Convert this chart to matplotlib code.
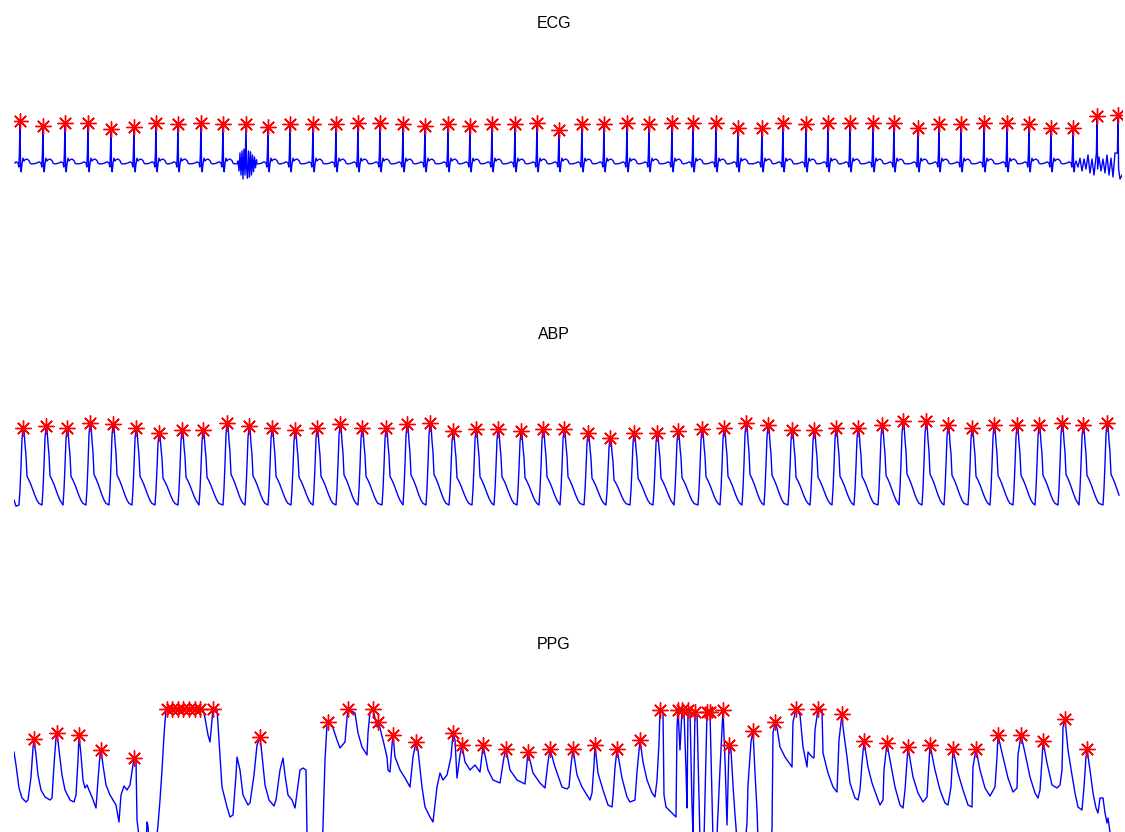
import numpy as np
import matplotlib.pyplot as plt

plt.rcParams['font.family'] = ['Liberation Sans', 'DejaVu Sans']

FS = 30.0  # index units per second on the shared time axis
T_END = 1108 / FS

# ---------------- ECG ----------------
ecg_r_idx = [6, 29, 51, 74, 97, 120, 142, 164, 187, 209,
             232, 254, 276, 299, 322, 344, 366, 389, 411, 434,
             456, 478, 501, 523, 545, 568, 590, 613, 635, 658,
             679, 702, 724, 748, 769, 792, 814, 836, 859, 880,
             904, 925, 947, 970, 993, 1015, 1037, 1059, 1083, 1104]
ecg_r_mv = [1.05, 0.93, 1.0, 1.0, 0.85, 0.9, 1.0, 0.98, 1.0, 0.98,
            0.98, 0.9, 0.98, 0.98, 0.98, 1.0, 1.0, 0.98, 0.93, 0.98,
            0.93, 0.98, 0.98, 1.0, 0.83, 0.98, 0.98, 1.0, 0.98, 1.0,
            1.0, 1.0, 0.88, 0.88, 1.0, 0.98, 1.0, 1.0, 1.0, 1.0,
            0.88, 0.98, 0.98, 1.0, 1.0, 0.98, 0.88, 0.88, 1.18, 1.2]
# one PQRST complex: offset from R (index units) and level in mV, R level set per beat
ecg_beat_off = [-9, -6, -4, -2, -1.2, -0.6, 0, 0.6, 1.2, 2, 3, 4, 5, 7, 9, 10, 11]
ecg_beat_mv = [-0.02, 0.0, 0.03, 0.0, -0.1, 0.25, 1.0, -0.15, -0.22, -0.02,
               0.12, 0.05, 0.08, 0.1, 0.06, 0.0, -0.02]
# electrode noise around beat 11 and at the end of the record
ecg_burst_idx = [224, 225, 226, 227, 228, 229, 230, 231, 233.5, 234.5, 235.5,
                 236.5, 237.5, 238.5, 239.5, 240.5, 241.5, 242.5]
ecg_burst_mv = [0.05, -0.2, 0.25, -0.3, 0.3, -0.4, 0.35, -0.3, -0.38, 0.3, -0.35,
                0.28, -0.3, 0.2, -0.22, 0.15, -0.12, 0.08]
ecg_tail_idx = [1062, 1064, 1066, 1068, 1070, 1072, 1074, 1076, 1078, 1080,
                1085, 1087, 1089, 1091, 1093, 1095, 1097, 1099, 1101, 1106, 1108]
ecg_tail_mv = [0.05, -0.1, 0.12, -0.2, 0.1, -0.15, 0.2, -0.25, 0.1, -0.3,
               0.15, -0.2, 0.1, -0.25, 0.2, -0.3, 0.12, -0.35, 0.25, -0.4, -0.3]

# ---------------- ABP ----------------
abp_sys_idx = [9, 32, 53, 76, 99, 122, 145, 168, 189, 213,
               235, 258, 281, 303, 326, 348, 372, 393, 416, 439,
               462, 484, 507, 529, 550, 574, 596, 620, 643, 664,
               688, 710, 732, 754, 778, 800, 822, 844, 868, 889,
               912, 934, 958, 980, 1003, 1025, 1048, 1069, 1093]
abp_sys = [122, 123, 122, 126, 125, 122, 118, 120, 120, 126,
           123, 122, 120, 122, 125, 122, 122, 125, 126, 119,
           121, 121, 119, 121, 121, 118, 114, 118, 118, 119,
           121, 122, 126, 124, 120, 120, 122, 122, 124, 127,
           127, 124, 122, 124, 124, 124, 126, 124, 126]
abp_dia = 60
abp_beat_off = [-4, -3, -2, -1, 0, 1, 2, 3, 4, 6, 8, 10, 12, 14, 16]
abp_beat_frac = [0, 0.2, 0.5, 0.85, 1.0, 0.97, 0.78, 0.64, 0.37, 0.32,
                 0.26, 0.19, 0.12, 0.06, 0.02]
abp_lead_idx = [0, 2]
abp_lead = [64, 59]
abp_last_idx = 1106

# ---------------- PPG ----------------
ppg_idx = [0, 2, 5, 8, 12, 14, 17, 19, 20, 22, 24, 27, 31, 36, 38, 40, 42, 43, 45, 48,
           51, 56, 60, 62, 64, 65, 67, 69, 71, 73, 75, 78, 82, 84, 86, 87, 89, 92, 96, 99,
           102, 105, 107, 110, 113, 116, 119, 120, 122, 123, 126, 132, 133, 134, 135, 141, 143, 144, 146, 148,
           150, 152, 189, 191, 194, 196, 198, 199, 203, 205, 208, 213, 216, 219, 222, 223, 226, 229, 234, 236,
           240, 243, 246, 248, 251, 255, 260, 262, 266, 269, 271, 274, 278, 281, 284, 286, 289, 292, 293, 301,
           308, 309, 311, 313, 314, 319, 323, 326, 331, 333, 334, 341, 344, 348, 353, 354, 356, 359, 363, 364,
           366, 369, 373, 374, 376, 378, 379, 381, 386, 391, 396, 399, 402, 404, 408, 411, 416, 419, 423, 426,
           429, 433, 437, 439, 441, 443, 446, 448, 451, 456, 461, 466, 468, 469, 474, 479, 486, 490, 492, 496,
           503, 511, 513, 514, 519, 526, 531, 534, 536, 541, 548, 553, 555, 557, 559, 563, 568, 573, 576, 578,
           580, 581, 584, 589, 594, 598, 599, 601, 603, 608, 613, 616, 621, 623, 626, 629, 633, 638, 641, 643,
           645, 646, 649, 650, 652, 662, 663, 664, 666, 668, 670, 672, 673, 674, 676, 678, 679, 681, 683, 686,
           690, 693, 696, 699, 703, 706, 709, 711, 713, 715, 717, 719, 721, 723, 731, 733, 734, 737, 739, 741,
           743, 744, 756, 758, 759, 761, 763, 766, 771, 778, 779, 782, 786, 789, 793, 794, 798, 800, 801, 804,
           808, 809, 814, 819, 823, 825, 828, 829, 833, 836, 841, 844, 846, 848, 850, 854, 858, 863, 866, 869,
           870, 873, 876, 881, 886, 889, 891, 894, 899, 904, 909, 913, 916, 921, 926, 931, 934, 937, 939, 944,
           949, 954, 958, 959, 962, 966, 971, 976, 981, 983, 984, 989, 994, 999, 1003, 1004, 1007, 1011, 1016, 1021,
           1024, 1026, 1028, 1029, 1033, 1038, 1043, 1046, 1048, 1049, 1051, 1054, 1058, 1061, 1064, 1068, 1070, 1072, 1073, 1076,
           1079, 1082, 1084, 1086, 1089, 1091, 1093, 1094, 1096]
ppg_val = [77, 64, 41, 31, 27, 29, 52, 81, 90, 74, 54, 39, 32, 29, 31, 64, 91, 96, 79, 54,
           39, 29, 27, 34, 69, 94, 74, 49, 41, 44, 39, 32, 21, 49, 74, 79, 64, 44, 34, 29,
           24, 7, 34, 43, 39, 44, 64, 71, 69, 9, -16, -16, 7, 3, -16, -16, -6, 4, 29, 59,
           94, 120, 120, 111, 94, 87, 109, 120, 120, 89, 42, 22, 12, 14, 54, 72, 59, 34, 24, 26,
           54, 84, 92, 74, 44, 29, 23, 29, 59, 71, 54, 34, 29, 21, 44, 59, 61, 59, -6, -21,
           -21, 2, 69, 104, 107, 101, 89, 81, 87, 111, 120, 116, 96, 82, 74, 96, 117, 120, 102, 107,
           101, 89, 72, 59, 57, 84, 94, 72, 59, 51, 42, 72, 87, 79, 42, 22, 12, 7, 42, 56,
           49, 54, 72, 96, 89, 51, 74, 84, 67, 59, 64, 57, 74, 84, 59, 49, 46, 72, 80, 59,
           49, 45, 67, 77, 56, 46, 41, 67, 80, 62, 42, 40, 42, 64, 80, 54, 42, 34, 29, 36,
           64, 84, 56, 39, 24, 22, 32, 61, 80, 51, 32, 27, 29, 57, 89, 67, 49, 36, 32, 49,
           86, 119, 117, 34, 22, 12, 101, 119, 79, 119, 117, 59, 21, 119, 117, 24, -6, 117, 117, -11,
           -11, 117, 117, -11, -6, 60, 119, 69, 4, 84, 79, 44, 14, -11, -16, 6, 44, 87, 98, 56,
           19, -11, -16, -1, 96, 107, 101, 82, 72, 62, 107, 120, 114, 82, 62, 77, 72, 71, 99, 120,
           119, 76, 56, 42, 37, 89, 115, 102, 72, 46, 31, 29, 39, 66, 88, 62, 46, 32, 24, 29,
           59, 86, 69, 42, 24, 21, 39, 82, 52, 36, 27, 32, 84, 59, 39, 26, 24, 42, 80, 56,
           39, 24, 22, 62, 80, 59, 41, 33, 42, 72, 94, 72, 51, 37, 41, 74, 94, 76, 52, 36,
           31, 39, 69, 88, 66, 44, 41, 44, 59, 102, 110, 79, 54, 36, 22, 19, 42, 72, 80, 59,
           36, 21, 16, 31, 31, 16, 6, 11, -3]
ppg_pk_idx = [20, 43, 65, 87, 120, 153, 158, 164, 169, 175, 181, 186, 199, 246,
              314, 334, 359, 364, 379, 402, 439, 448, 469, 492, 514, 536, 559, 581,
              603, 626, 646, 664, 668, 674, 681, 693, 696, 709, 715, 739, 761, 782,
              804, 828, 850, 873, 894, 916, 939, 962, 984, 1007, 1029, 1051, 1073]
ppg_pk_val = [90, 96, 94, 79, 71, 120, 120, 120, 120, 120, 120, 120, 120, 92,
              107, 120, 120, 107, 94, 87, 96, 84, 84, 80, 77, 80, 80, 84,
              80, 89, 119, 119, 119, 119, 117, 117, 117, 119, 84, 98, 107, 120,
              120, 115, 88, 86, 82, 84, 80, 80, 94, 94, 88, 110, 80]


def build_ecg():
    pts = []
    noise_win = [(ecg_burst_idx[0], ecg_burst_idx[-1]), (ecg_tail_idx[0], ecg_tail_idx[-1])]
    for r, amp in zip(ecg_r_idx, ecg_r_mv):
        for off, mv in zip(ecg_beat_off, ecg_beat_mv):
            n = r + off
            if n < 1 or n > T_END * FS:
                continue
            if abs(off) > 0.7 and any(lo <= n <= hi for lo, hi in noise_win):
                continue
            pts.append((n, amp if off == 0 else mv))
    pts += list(zip(ecg_burst_idx, ecg_burst_mv))
    pts += list(zip(ecg_tail_idx, ecg_tail_mv))
    pts.append((1, 0.0))
    pts.sort()
    n, v = zip(*pts)
    return np.array(n) / FS, np.array(v)


def build_abp():
    n = list(abp_lead_idx)
    v = list(abp_lead)
    for s_idx, s in zip(abp_sys_idx, abp_sys):
        for off, fr in zip(abp_beat_off, abp_beat_frac):
            if s_idx + off <= abp_last_idx:
                n.append(s_idx + off)
                v.append(abp_dia + (s - abp_dia) * fr)
    return np.array(n) / FS, np.array(v)


fig = plt.figure(figsize=(11.25, 8.32), dpi=100)
W, H = 1125.0, 832.0


def add_panel(top_px, bottom_px, name):
    ax = fig.add_axes([14 / W, 1 - bottom_px / H, 1108 / W, (bottom_px - top_px) / H])
    ax.set_xlim(0, T_END)
    ax.axis('off')
    ax.set_title(name, fontsize=11.5, pad=8, x=0.487)
    return ax


star = (8, 2, 0)
mk = dict(marker=star, color='red', linestyle=' ', markersize=11.5, markeredgewidth=1.0)

ax1 = add_panel(39, 200, 'ECG')
t, v = build_ecg()
ax1.plot(t, v, color='blue', linewidth=1.0)
ax1.plot(np.array(ecg_r_idx) / FS, ecg_r_mv, **mk)
ax1.set_ylim(-0.925, 3.1)

ax2 = add_panel(350, 530, 'ABP')
t, v = build_abp()
ax2.plot(t, v, color='blue', linewidth=1.0)
ax2.plot(np.array(abp_sys_idx) / FS, abp_sys, **mk)
ax2.set_ylim(40, 184)

ax3 = add_panel(660, 832, 'PPG')
ax3.plot(np.array(ppg_idx) / FS, ppg_val, color='blue', linewidth=1.0)
ax3.plot(np.array(ppg_pk_idx) / FS, ppg_pk_val, **mk)
ax3.set_ylim(-3, 169)

fig.savefig('out.png', dpi=100, facecolor='white')
